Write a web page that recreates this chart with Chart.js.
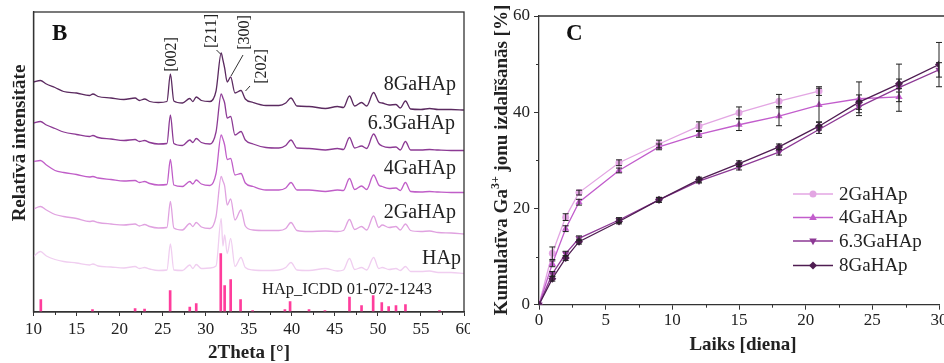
<!DOCTYPE html>
<html>
<head>
<meta charset="utf-8">
<title>XRD un Ga³⁺ izdalīšanās</title>
<script src="https://cdn.jsdelivr.net/npm/chart.js@4.4.1/dist/chart.umd.min.js"></script>
<style>
  html, body { margin: 0; padding: 0; background: #fff; overflow: hidden; width: 944px; height: 363px; }
  #xrd { position: absolute; left: 0; top: 0; }
  #rel { position: absolute; left: 470px; top: 0; }
</style>
</head>
<body>
<canvas id="xrd" width="480" height="363"></canvas>
<canvas id="rel" width="490" height="363"></canvas>
<script>
// ---------- B: XRD patterns (relative intensity, curves stacked) ----------
const twoTheta = [10, 10.8, 11.5, 12.5, 13.5, 15, 16.5, 16.9, 17.5, 19, 20.5, 21.8, 22.3, 22.9, 23.5, 24.5, 25.5, 25.9, 26.3, 27.3,
  28.15, 28.5, 28.9, 29.5, 30.5, 31.2, 31.8, 32.0, 32.2, 32.5, 32.9, 33.4, 34.1, 34.6, 35.5, 37, 38.5, 39.3, 39.9, 40.6,
  42, 43.9, 45.3, 46.0, 46.7, 47.3, 48.1, 48.7, 49.5, 50.1, 50.5, 51.3, 52.1, 52.6, 53.2, 53.8, 55, 56, 57, 58.5, 60];

const xrd8GaHAp = [230, 231.5, 228, 224.5, 220.5, 219, 216.5, 218, 215.5, 214, 212.5, 214, 211.5, 213, 210.5, 209.5, 210.5, 238, 211, 209,
  213.5, 210.5, 215, 211.5, 210.5, 221, 259, 252, 244, 230, 235, 219, 221.5, 213, 209.5, 206.5, 206.5, 209, 214, 206,
  205.5, 203.5, 205.5, 204.5, 216, 206, 209.5, 206, 219.5, 210, 209, 207, 207.5, 204, 211, 203, 202.5, 203.5, 202.5, 202.5, 202];

const xrd63GaHAp = [189, 190.5, 187, 183.5, 180, 177.5, 175.5, 176.5, 174.5, 173, 171.5, 172.5, 170.5, 171.5, 169.5, 168, 168.5, 197, 168.5, 166.5,
  172, 169.5, 173.5, 169.5, 168, 180, 218, 214, 209, 194, 195.5, 177, 180.5, 172, 168, 164.5, 164, 166.5, 172, 164,
  163.5, 162, 163.5, 162.5, 174.5, 164, 166, 163.5, 178, 168.5, 166, 164.5, 165, 162, 170.5, 162, 162, 162.5, 162, 161.5, 161.5];

const xrd4GaHAp = [150.5, 151.5, 147, 141.5, 139.5, 137.5, 135, 135.5, 134, 132.5, 131, 131.5, 129.5, 130.5, 128.5, 127, 127.5, 152.5, 127, 125.5,
  130.5, 128, 132, 128, 126.5, 138.5, 177, 173, 167, 152.5, 153.5, 137, 138.5, 129, 125.5, 122, 122, 124, 129.5, 122,
  122, 120.5, 122, 121.5, 133.5, 122.5, 126, 122.5, 137, 127, 125.5, 123.5, 124, 121.5, 129.5, 120.5, 120, 120.5, 120, 119.5, 119.5];

const xrd2GaHAp = [103, 105.5, 102, 97.5, 95.5, 93.5, 90.5, 91, 89.5, 88, 87, 88, 86, 87.5, 85.5, 84, 84.5, 110.5, 84, 82,
  88.5, 85.5, 89.5, 85, 83.5, 95.5, 135.5, 131, 126, 107, 113, 92, 102, 86, 82, 81.5, 81.5, 83.5, 89.5, 81.5,
  80.5, 81, 80.5, 81.5, 92.5, 82.5, 85.5, 82, 96, 84.5, 87, 84.5, 85.5, 82, 88, 81.5, 80.5, 81, 79.5, 79, 78];

const xrdHAp = [55.5, 60.5, 56, 52.5, 50.5, 49, 47, 48, 46, 45, 44, 45.5, 43.5, 44.5, 43, 41.5, 42, 68, 42, 41.5,
  47, 43.5, 47.5, 43.5, 44, 46, 93.5, 66, 77, 58.5, 73.5, 45.5, 54.5, 44.5, 42, 41.5, 42, 44.5, 49.5, 42,
  41.5, 43.5, 41, 42, 53.5, 42.5, 44.5, 42, 54.5, 43.5, 44.5, 42.5, 43.5, 41.5, 45.5, 40.5, 40.5, 41, 39.5, 39.5, 38.5];

// reference card HAp ICDD 01-072-1243: line positions and relative heights
const icddPos = [10.85, 16.85, 21.8, 22.9, 25.87, 28.15, 28.9, 31.75, 32.2, 32.9, 34.05, 35.45, 39.2, 39.8, 42.0, 43.85,
  46.7, 48.1, 49.45, 50.45, 51.25, 52.1, 53.2, 57.15];
const icddInt = [12.5, 2.5, 3.5, 3, 21.5, 5, 8.5, 58.5, 26.5, 32.5, 12.5, 1.5, 2.5, 10.5, 2.5, 1.5,
  15, 6.5, 16.5, 9.5, 5.5, 6.5, 7.5, 1.5];

const xrdNames = ['8GaHAp', '6.3GaHAp', '4GaHAp', '2GaHAp', 'HAp'];
const peakNames = ['[002]', '[211]', '[300]', '[202]'];
const icddName = 'HAp_ICDD 01-072-1243';

// ---------- C: cumulative Ga3+ release ----------
const days = [0, 1, 2, 3, 6, 9, 12, 15, 18, 21, 24, 27, 30];
const rel2GaHAp = [0, 10.7, 18.2, 23.3, 29.5, 33.4, 37.1, 39.9, 42.3, 44.4];
const rel4GaHAp = [0, 8.5, 15.8, 21.3, 27.9, 32.8, 35.4, 37.4, 39.2, 41.5, 42.8, 43.2];
const rel63GaHAp = [0, 6.4, 10.6, 13.8, 17.6, 21.8, 25.7, 28.6, 31.7, 36.4, 41.1, 45.1, 48.8];
const rel8GaHAp = [0, 5.4, 9.7, 13.1, 17.3, 21.8, 26.0, 29.3, 32.8, 37.1, 42.1, 45.9, 49.9];
const err2GaHAp = [0, 1.3, 0.7, 0.5, 0.6, 0.8, 0.9, 1.2, 1.4, 0.9];
const err4GaHAp = [0, 0.6, 0.6, 0.6, 0.5, 0.6, 0.6, 1.2, 2.0, 3.5, 3.5, 1.0];
const err63GaHAp = [0, 0.5, 0.5, 0.5, 0.5, 0.5, 0.4, 0.6, 0.6, 0.8, 1.2, 4.9, 1.5];
const err8GaHAp = [0, 0.5, 0.5, 0.5, 0.5, 0.5, 0.5, 0.6, 0.6, 0.8, 1.5, 1.0, 4.6];
const relNames = ['2GaHAp', '4GaHAp', '6.3GaHAp', '8GaHAp'];

// ---------- shared styling ----------
const SERIF = '"Liberation Serif", "Times New Roman", serif';
const INK = '#222222';
const AXIS = '#333333';

const xy = (xs, ys) => ys.map((y, i) => ({ x: xs[i], y }));

function vText(ctx, txt, x, y, font, align) {
  ctx.save();
  ctx.translate(x, y);
  ctx.rotate(-Math.PI / 2);
  ctx.font = font;
  ctx.fillStyle = INK;
  ctx.textAlign = align || 'center';
  ctx.textBaseline = 'middle';
  ctx.fillText(txt, 0, 0);
  ctx.restore();
}

function seg(ctx, x1, y1, x2, y2) {
  ctx.beginPath(); ctx.moveTo(x1, y1); ctx.lineTo(x2, y2); ctx.stroke();
}

// ================= Panel B =================
const xrdColors = ['#5b2a60', '#8c3a94', '#c05ec8', '#e0a2e0', '#f0cef0'];
const xrdValues = [xrd8GaHAp, xrd63GaHAp, xrd4GaHAp, xrd2GaHAp, xrdHAp];
const xrdLabelPos = [[456, 85], [455, 124], [456, 169], [456, 213], [461, 259]];

const xrdDecor = {
  id: 'xrdDecor',
  afterDraw(chart) {
    const { ctx, chartArea: a, scales: { x } } = chart;
    ctx.save();
    ctx.strokeStyle = AXIS;
    ctx.lineWidth = 1.3;
    ctx.strokeRect(a.left, a.top, a.right - a.left, a.bottom - a.top);
    ctx.lineWidth = 1;
    for (let v = 12.5; v < 60; v += 5) {
      const px = Math.round(x.getPixelForValue(v)) + 0.5;
      seg(ctx, px, a.bottom, px, a.bottom + 3);
    }
    // panel letter
    ctx.fillStyle = '#111';
    ctx.font = 'bold 23px ' + SERIF;
    ctx.textAlign = 'left';
    ctx.textBaseline = 'alphabetic';
    ctx.fillText('B', 52, 40);
    // reflection labels
    const pf = '16px ' + SERIF;
    vText(ctx, peakNames[0], 172, 54.5, pf);
    vText(ctx, peakNames[1], 212, 31, pf);
    vText(ctx, peakNames[2], 244.5, 32.5, pf);
    vText(ctx, peakNames[3], 261.5, 66.5, pf);
    ctx.strokeStyle = '#333';
    ctx.lineWidth = 1;
    seg(ctx, 216.5, 50, 220.5, 54);
    seg(ctx, 243, 55, 231, 76);
    seg(ctx, 250, 86, 245.5, 91);
    // curve names
    ctx.fillStyle = INK;
    ctx.font = '20px ' + SERIF;
    ctx.textAlign = 'right';
    ctx.textBaseline = 'middle';
    xrdNames.forEach((n, i) => ctx.fillText(n, xrdLabelPos[i][0], xrdLabelPos[i][1]));
    ctx.font = '16.5px ' + SERIF;
    ctx.textAlign = 'left';
    ctx.fillText(icddName, 262, 290);
    // axis titles
    ctx.font = 'bold 19px ' + SERIF;
    ctx.textAlign = 'center';
    ctx.textBaseline = 'alphabetic';
    ctx.fillText('2Theta [°]', 249, 358);
    ctx.save();
    ctx.translate(25, 143);
    ctx.rotate(-Math.PI / 2);
    ctx.fillText('Relatīvā intensitāte', 0, 0);
    ctx.restore();
    ctx.restore();
  }
};

const xrdDatasets = [{
  type: 'bar',
  label: icddName,
  data: xy(icddPos, icddInt),
  backgroundColor: '#ff3d9c',
  barThickness: 2,
  borderWidth: 0
}].concat(xrdValues.map((vals, i) => ({
  type: 'line',
  label: xrdNames[i],
  data: xy(twoTheta, vals),
  borderColor: xrdColors[i],
  borderWidth: 1.3,
  pointRadius: 0,
  fill: false,
  cubicInterpolationMode: 'monotone'
})));

new Chart(document.getElementById('xrd'), {
  type: 'line',
  data: { datasets: xrdDatasets },
  options: {
    responsive: false,
    animation: false,
    devicePixelRatio: 1,
    layout: { padding: { left: 0, right: 16, top: 12, bottom: 0 } },
    plugins: { legend: { display: false }, tooltip: { enabled: false } },
    scales: {
      x: {
        type: 'linear', min: 10, max: 60, offset: false,
        ticks: { stepSize: 5, color: INK, font: { family: SERIF, size: 17 }, padding: 3, maxRotation: 0 },
        grid: { display: true, drawOnChartArea: false, tickLength: 4, color: AXIS, offset: false },
        border: { display: true, color: AXIS, width: 1.3 },
        afterFit: s => { s.height = 51; }
      },
      y: {
        type: 'linear', min: 0, max: 300,
        ticks: { display: false },
        grid: { display: false },
        border: { display: true, color: AXIS, width: 1.3 },
        afterFit: s => { s.width = 33.5; }
      }
    }
  },
  plugins: [xrdDecor]
});

// ================= Panel C =================
const relStyles = [
  { name: relNames[3], vals: rel8GaHAp, err: err8GaHAp, color: '#4f1d52', point: 'rectRot', r: 4, rot: 0 },
  { name: relNames[2], vals: rel63GaHAp, err: err63GaHAp, color: '#8d3995', point: 'triangle', r: 4.2, rot: 180 },
  { name: relNames[1], vals: rel4GaHAp, err: err4GaHAp, color: '#c25dcc', point: 'triangle', r: 4.2, rot: 0 },
  { name: relNames[0], vals: rel2GaHAp, err: err2GaHAp, color: '#e3a6e3', point: 'circle', r: 3.5, rot: 0 }
];

function drawMarker(ctx, style, rot, x, y, r, color) {
  ctx.save();
  ctx.translate(x, y);
  ctx.rotate(rot * Math.PI / 180);
  ctx.fillStyle = color;
  ctx.beginPath();
  if (style === 'circle') {
    ctx.arc(0, 0, r, 0, Math.PI * 2);
  } else if (style === 'triangle') {
    ctx.moveTo(0, -r);
    ctx.lineTo(r * 0.9, r * 0.6);
    ctx.lineTo(-r * 0.9, r * 0.6);
    ctx.closePath();
  } else {
    ctx.moveTo(0, -r); ctx.lineTo(r, 0); ctx.lineTo(0, r); ctx.lineTo(-r, 0); ctx.closePath();
  }
  ctx.fill();
  ctx.restore();
}

const relDecor = {
  id: 'relDecor',
  beforeDraw(chart) {
    const ctx = chart.ctx;
    ctx.save();
    ctx.fillStyle = '#ffffff';
    ctx.fillRect(0, 0, chart.width, chart.height);
    ctx.restore();
  },
  afterDatasetsDraw(chart) {
    const { ctx, scales: { y } } = chart;
    ctx.save();
    ctx.strokeStyle = '#222';
    ctx.lineWidth = 1;
    chart.data.datasets.forEach((ds, di) => {
      const meta = chart.getDatasetMeta(di);
      const errs = relStyles[di].err;
      ds.data.forEach((p, i) => {
        const e = errs[i];
        if (!e) return;
        const px = meta.data[i].x;
        const yt = y.getPixelForValue(p.y + e);
        const yb = y.getPixelForValue(p.y - e);
        seg(ctx, px, yt, px, yb);
        seg(ctx, px - 3, yt, px + 3, yt);
        seg(ctx, px - 3, yb, px + 3, yb);
      });
    });
    ctx.restore();
  },
  afterDraw(chart) {
    const { ctx, chartArea: a, scales: { x, y } } = chart;
    ctx.save();
    ctx.strokeStyle = AXIS;
    ctx.lineWidth = 1.3;
    seg(ctx, a.left, a.top, chart.width, a.top);
    ctx.lineWidth = 1;
    for (let v = 2.5; v < 30; v += 5) {
      const px = Math.round(x.getPixelForValue(v)) + 0.5;
      seg(ctx, px, a.bottom, px, a.bottom + 3);
    }
    for (let v = 10; v < 60; v += 20) {
      const py = Math.round(y.getPixelForValue(v)) + 0.5;
      seg(ctx, a.left, py, a.left - 3, py);
    }
    // panel letter
    ctx.fillStyle = '#111';
    ctx.font = 'bold 23px ' + SERIF;
    ctx.textAlign = 'left';
    ctx.textBaseline = 'alphabetic';
    ctx.fillText('C', 96, 40);
    // legend
    const rows = [194, 217.5, 241, 265.5];
    ctx.font = '19px ' + SERIF;
    ctx.textBaseline = 'middle';
    relStyles.slice().reverse().forEach((s, i) => {
      const yy = rows[i];
      ctx.strokeStyle = s.color;
      ctx.lineWidth = 1.3;
      seg(ctx, 323, yy, 363, yy);
      drawMarker(ctx, s.point, s.rot, 343, yy, s.r, s.color);
      ctx.fillStyle = INK;
      ctx.fillText(s.name, 369, yy + 1);
    });
    // axis titles
    ctx.fillStyle = INK;
    ctx.font = 'bold 19px ' + SERIF;
    ctx.textAlign = 'center';
    ctx.textBaseline = 'alphabetic';
    ctx.fillText('Laiks [diena]', 273, 350);
    ctx.save();
    ctx.translate(37, 160);
    ctx.rotate(-Math.PI / 2);
    const big = 'bold 19px ' + SERIF, small = 'bold 12px ' + SERIF;
    const p1 = 'Kumulatīva Ga', p2 = '3+', p3 = ' jonu izdalīšanās [%]';
    ctx.font = big; const w1 = ctx.measureText(p1).width, w3 = ctx.measureText(p3).width;
    ctx.font = small; const w2 = ctx.measureText(p2).width;
    let sx = -(w1 + w2 + w3) / 2;
    ctx.textAlign = 'left';
    ctx.font = big; ctx.fillText(p1, sx, 0); sx += w1;
    ctx.font = small; ctx.fillText(p2, sx, -8); sx += w2;
    ctx.font = big; ctx.fillText(p3, sx, 0);
    ctx.restore();
    ctx.restore();
  }
};

new Chart(document.getElementById('rel'), {
  type: 'line',
  data: {
    datasets: relStyles.map(s => ({
      label: s.name,
      data: xy(days, s.vals),
      borderColor: s.color,
      backgroundColor: s.color,
      borderWidth: 1.3,
      pointStyle: s.point,
      pointRotation: s.rot,
      pointRadius: s.r,
      pointBorderWidth: 0,
      pointBackgroundColor: s.color,
      fill: false,
      tension: 0
    }))
  },
  options: {
    responsive: false,
    animation: false,
    devicePixelRatio: 1,
    layout: { padding: { left: 0, right: 21, top: 16, bottom: 0 } },
    plugins: { legend: { display: false }, tooltip: { enabled: false } },
    scales: {
      x: {
        type: 'linear', min: 0, max: 30, offset: false,
        ticks: { stepSize: 5, color: INK, font: { family: SERIF, size: 17 }, padding: 1, maxRotation: 0 },
        grid: { display: true, drawOnChartArea: false, tickLength: 5, color: AXIS },
        border: { display: true, color: AXIS, width: 1.3 },
        afterFit: s => { s.height = 58.3; }
      },
      y: {
        type: 'linear', min: 0, max: 60,
        ticks: { stepSize: 20, color: INK, font: { family: SERIF, size: 17 }, padding: 4 },
        grid: { display: true, drawOnChartArea: false, tickLength: 5, color: AXIS },
        border: { display: true, color: AXIS, width: 1.3 },
        afterFit: s => { s.width = 69; }
      }
    }
  },
  plugins: [relDecor]
});
</script>
</body>
</html>
